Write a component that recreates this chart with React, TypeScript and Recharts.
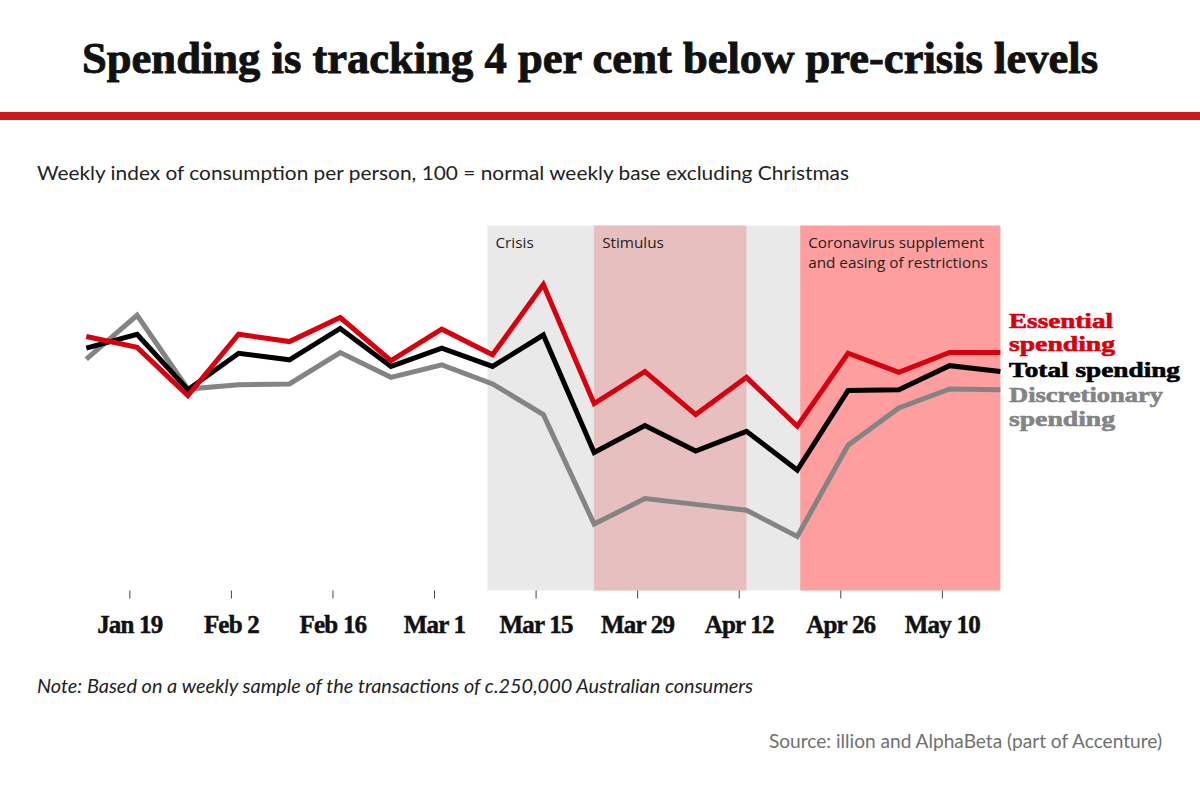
import { LineChart, Line, XAxis, YAxis, ReferenceArea } from 'recharts';

// weekly observations (week starting Monday)
const weeks = [
  '2020-01-13', '2020-01-20', '2020-01-27', '2020-02-03', '2020-02-10',
  '2020-02-17', '2020-02-24', '2020-03-02', '2020-03-09', '2020-03-16',
  '2020-03-23', '2020-03-30', '2020-04-06', '2020-04-13', '2020-04-20',
  '2020-04-27', '2020-05-04', '2020-05-11', '2020-05-18',
];

const essential = [
  99.8, 98.3, 91.7, 100.1, 99.1, 102.4, 96.5, 100.8, 97.3, 106.9,
  90.6, 95.0, 89.1, 94.2, 87.5, 97.5, 94.9, 97.6, 97.6,
];

const total = [
  98.2, 100.1, 92.5, 97.5, 96.6, 100.9, 95.7, 98.2, 95.7, 100.0,
  83.9, 87.6, 84.1, 86.8, 81.5, 92.4, 92.5, 95.8, 95.0,
];

const discretionary = [
  96.7, 102.7, 92.6, 93.2, 93.3, 97.6, 94.2, 95.9, 93.3, 89.1,
  74.1, 77.6, 76.8, 76.0, 72.4, 84.9, 90.0, 92.6, 92.5,
];

const tickDates = [
  '2020-01-19', '2020-02-02', '2020-02-16', '2020-03-01', '2020-03-15',
  '2020-03-29', '2020-04-12', '2020-04-26', '2020-05-10',
];
const tickLabels = ['Jan 19', 'Feb 2', 'Feb 16', 'Mar 1', 'Mar 15', 'Mar 29', 'Apr 12', 'Apr 26', 'May 10'];

// shaded periods, in days after Jan 19
const phases = [
  { lines: ['Crisis'], start: 49.3, end: 92.4, fill: '#e9e9e9' },
  { lines: ['Stimulus'], start: 64, end: 85, fill: '#e8bfbf' },
  { lines: ['Coronavirus supplement', 'and easing of restrictions'], start: 92.4, end: 120, fill: '#fe9e9f' },
];

const BASE = Date.UTC(2020, 0, 19);
const dayOf = (iso: string) => (Date.parse(iso) - BASE) / 86400000;

const data = weeks.map((w, i) => ({
  day: dayOf(w),
  essential: essential[i],
  total: total[i],
  discretionary: discretionary[i],
}));
const tickDays = tickDates.map(dayOf);

const RED = '#d7000e';
const GREY = '#848484';
const serif = "'Liberation Serif', 'Times New Roman', serif";
const sans = "Lato, 'Open Sans', sans-serif";

function DateTick({ x, y, payload }: any) {
  const label = tickLabels[tickDays.indexOf(payload.value)];
  return (
    <text x={x} y={y} dy={32} textAnchor="middle" fontFamily={serif} fontWeight={700}
      fontSize={25} fill="#111" stroke="#111" strokeWidth={0.5} letterSpacing={-0.8}>
      {label}
    </text>
  );
}

function PhaseLabel({ viewBox, lines }: any) {
  if (!viewBox) return null;
  return (
    <text x={viewBox.x + 8} y={viewBox.y + 22} fontFamily="'Open Sans', sans-serif" fontSize={15.3} fill="#222">
      {lines.map((l: string, i: number) => (
        <tspan key={i} x={viewBox.x + 8} dy={i === 0 ? 0 : 20}>{l}</tspan>
      ))}
    </text>
  );
}

export default function App() {
  return (
    <div style={{ position: 'absolute', left: 0, top: 0, width: 1200, height: 800, background: '#fff', overflow: 'hidden' }}>
      <LineChart
        width={1200}
        height={800}
        data={data}
        margin={{ top: 225.5, right: 199.6, left: 86.3, bottom: 179.5 }}
      >
        <XAxis
          dataKey="day"
          type="number"
          domain={[-6, 120]}
          ticks={tickDays}
          axisLine={false}
          tickLine={{ stroke: '#444' }}
          tickSize={8}
          height={30}
          tick={<DateTick />}
          interval={0}
        />
        <YAxis hide domain={[65, 115]} />
        {phases.map((p, i) => (
          <ReferenceArea
            key={i}
            x1={p.start}
            x2={p.end}
            fill={p.fill}
            fillOpacity={1}
            stroke="none"
            ifOverflow="extendDomain"
            label={(props: any) => <PhaseLabel {...props} lines={p.lines} />}
          />
        ))}
        <Line type="linear" dataKey="discretionary" stroke={GREY} strokeWidth={5} dot={false} isAnimationActive={false} />
        <Line type="linear" dataKey="total" stroke="#000" strokeWidth={5} dot={false} isAnimationActive={false} />
        <Line type="linear" dataKey="essential" stroke={RED} strokeWidth={5} dot={false} isAnimationActive={false} />
      </LineChart>

      <svg width={1200} height={800} style={{ position: 'absolute', left: 0, top: 0, pointerEvents: 'none' }}>
        <text x={82} y={73} fontFamily={serif} fontWeight={700} fontSize={44}
          fill="#111" stroke="#111" strokeWidth={0.9} textLength={1016} lengthAdjust="spacingAndGlyphs">
          Spending is tracking 4 per cent below pre-crisis levels
        </text>
        <rect x={0} y={112} width={1200} height={8} fill="#cc171b" />
        <text x={37} y={179.5} fontFamily={sans} fontSize={19.5} fill="#222" textLength={812} lengthAdjust="spacingAndGlyphs">
          Weekly index of consumption per person, 100 = normal weekly base excluding Christmas
        </text>

        <g fontFamily={serif} fontWeight={700} fontSize={21} strokeWidth={0.6}>
          <text x={1009} y={327.5} fill={RED} stroke={RED} textLength={104} lengthAdjust="spacingAndGlyphs">Essential</text>
          <text x={1009} y={351} fill={RED} stroke={RED} textLength={106} lengthAdjust="spacingAndGlyphs">spending</text>
          <text x={1009} y={376.5} fill="#000" stroke="#000" textLength={171} lengthAdjust="spacingAndGlyphs">Total spending</text>
          <text x={1009} y={402} fill={GREY} stroke={GREY} textLength={154} lengthAdjust="spacingAndGlyphs">Discretionary</text>
          <text x={1009} y={425.5} fill={GREY} stroke={GREY} textLength={106} lengthAdjust="spacingAndGlyphs">spending</text>
        </g>

        <text x={37} y={693} fontFamily={sans} fontStyle="italic" fontSize={19} fill="#222" textLength={716} lengthAdjust="spacingAndGlyphs">
          Note: Based on a weekly sample of the transactions of c.250,000 Australian consumers
        </text>
        <text x={769} y={748} fontFamily={sans} fontSize={18.5} fill="#707070" textLength={393} lengthAdjust="spacingAndGlyphs">
          Source: illion and AlphaBeta (part of Accenture)
        </text>
      </svg>
    </div>
  );
}
